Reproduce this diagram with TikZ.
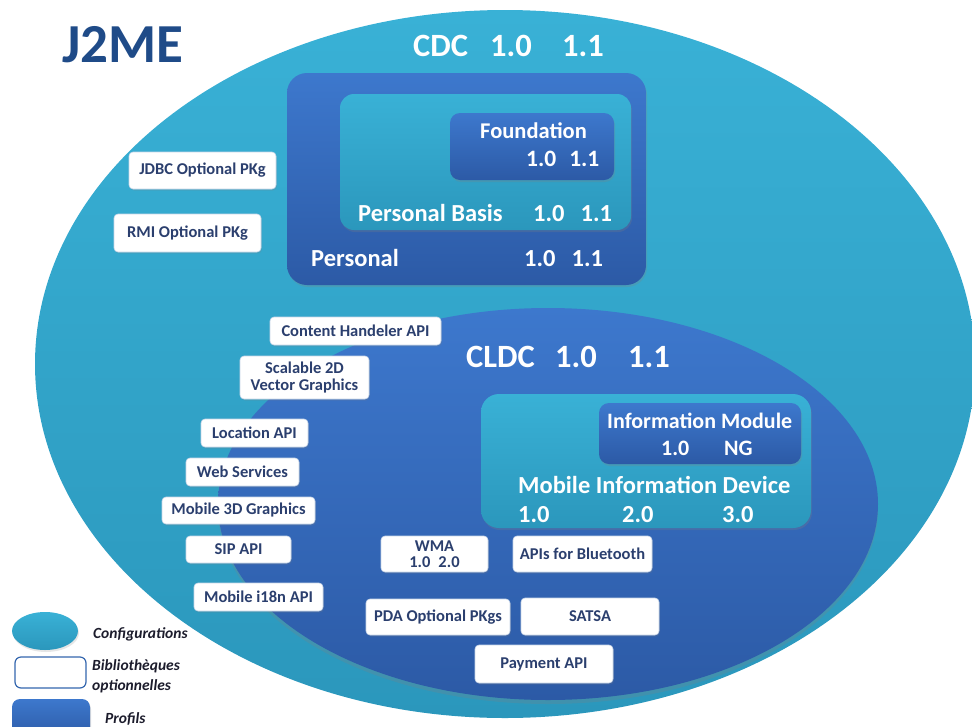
\documentclass[tikz,border=0pt]{standalone}
\usepackage{fontspec}
\setmainfont{Carlito}
\usepackage{xcolor}
\usepackage{tikz}
\usetikzlibrary{shapes.geometric,shadows}

\definecolor{cfgtop}{HTML}{39B1D6}
\definecolor{cfgbot}{HTML}{2B97BC}
\definecolor{proftop}{HTML}{3D78CD}
\definecolor{profbot}{HTML}{2C5AA6}
\definecolor{boxtext}{HTML}{2B3F6E}
\definecolor{j2me}{HTML}{1F4B88}
\definecolor{legtext}{HTML}{1C1C2C}
\definecolor{boxline}{HTML}{C9D6E8}

\tikzset{
  config/.style={ellipse, top color=cfgtop, bottom color=cfgbot, draw=none},
  profil/.style={rectangle, rounded corners=14pt, top color=proftop, bottom color=profbot, draw=none,
    drop shadow={opacity=0.25, shadow xshift=1pt, shadow yshift=-2pt}},
  cfgbox/.style={rectangle, rounded corners=14pt, top color=cfgtop, bottom color=cfgbot, draw=none,
    drop shadow={opacity=0.25, shadow xshift=1pt, shadow yshift=-2pt}},
  optpkg/.style={rectangle, rounded corners=4pt, fill=white, draw=boxline, line width=0.6pt,
    text=boxtext, font=\fontsize{16.5}{18}\selectfont\bfseries, align=center, inner sep=0pt,
    drop shadow={opacity=0.2, shadow xshift=1pt, shadow yshift=-1.5pt}},
  bigtitle/.style={anchor=base west, text=white, inner sep=0pt, font=\fontsize{32.5}{34}\selectfont\bfseries},
  proftitle/.style={anchor=base west, text=white, inner sep=0pt, font=\fontsize{24.5}{26}\selectfont\bfseries},
  legend/.style={anchor=base west, text=legtext, inner sep=0pt, font=\fontsize{15.5}{17}\selectfont\bfseries\itshape}
}

\begin{document}
\begin{tikzpicture}[x=1pt, y=-1pt]
  \useasboundingbox (0,0) rectangle (972,726);

  % configurations
  \node[config, minimum width=940pt, minimum height=708pt] (cdc) at (505,364) {};

  % CDC profiles
  \node[profil, minimum width=359pt, minimum height=212pt, rounded corners=20pt] (personal) at (466.5,179) {};
  \node[cfgbox, minimum width=291pt, minimum height=136pt] (basis) at (485.5,162) {};
  \node[profil, minimum width=164pt, minimum height=67pt, rounded corners=10pt] (foundation) at (532,146.5) {};

  \node[config, minimum width=660pt, minimum height=392pt, top color=proftop, bottom color=profbot,
    drop shadow={opacity=0.25, shadow xshift=0pt, shadow yshift=-4pt}] (cldc) at (548,504) {};

  % CLDC profiles
  \node[cfgbox, minimum width=330pt, minimum height=134pt, rounded corners=18pt] (midp) at (646,461) {};
  \node[profil, minimum width=202pt, minimum height=61pt, rounded corners=10pt] (imp) at (700,433.5) {};

  % titles
  \node[anchor=base west, inner sep=0pt, text=j2me, font=\fontsize{55}{57}\selectfont\bfseries] (title) at (62,62) {J2ME};
  \node[bigtitle] (cdct) at (413,56) {CDC};
  \node[bigtitle] (cdcv1) at (490,56) {1.0};
  \node[bigtitle] (cdcv2) at (562,56) {1.1};
  \node[bigtitle] (cldct) at (466,367) {CLDC};
  \node[bigtitle] (cldcv1) at (555,367) {1.0};
  \node[bigtitle] (cldcv2) at (628,367) {1.1};

  \node[proftitle, font=\fontsize{22.5}{24}\selectfont\bfseries] (foundt) at (480,138) {Foundation};
  \node[proftitle, font=\fontsize{23.5}{25}\selectfont\bfseries] (foundv) at (526,166) {1.0\hspace{13pt}1.1};
  \node[proftitle] (basist) at (358,221) {Personal Basis};
  \node[proftitle] (basisv) at (533,221) {1.0\hspace{16pt}1.1};
  \node[proftitle] (perst) at (311,266) {Personal};
  \node[proftitle] (persv) at (524,266) {1.0\hspace{16pt}1.1};

  \node[proftitle, font=\fontsize{22}{24}\selectfont\bfseries] (impt) at (607,428) {Information Module};
  \node[proftitle, font=\fontsize{22}{24}\selectfont\bfseries] (impv1) at (661,455) {1.0};
  \node[proftitle, font=\fontsize{22}{24}\selectfont\bfseries] (impv2) at (724,455) {NG};
  \node[proftitle] (midpt) at (518,493) {Mobile Information Device};
  \node[proftitle] (midpv1) at (518,522) {1.0};
  \node[proftitle] (midpv2) at (622,522) {2.0};
  \node[proftitle] (midpv3) at (722,522) {3.0};

  % optional packages
  \node[optpkg, minimum width=147pt, minimum height=37pt] (jdbc) at (202.5,170.5) {JDBC Optional PKg};
  \node[optpkg, minimum width=147pt, minimum height=38pt] (rmi) at (187.5,233) {RMI Optional PKg};
  \node[optpkg, minimum width=171pt, minimum height=28pt] (chapi) at (355.5,331) {Content Handeler API};
  \node[optpkg, minimum width=129pt, minimum height=43pt] (svg) at (304.5,377.5) {Scalable 2D\\[-1pt]Vector Graphics};
  \node[optpkg, minimum width=107pt, minimum height=28pt] (loc) at (254.5,433) {Location API};
  \node[optpkg, minimum width=113pt, minimum height=28pt] (ws) at (242.5,472) {Web Services};
  \node[optpkg, minimum width=153pt, minimum height=27pt] (m3g) at (238.5,510.5) {Mobile 3D Graphics};
  \node[optpkg, minimum width=105pt, minimum height=27pt] (sip) at (238.5,549.5) {SIP API};
  \node[optpkg, minimum width=129pt, minimum height=28pt] (i18n) at (258.5,597) {Mobile i18n API};
  \node[optpkg, minimum width=107pt, minimum height=36pt] (wma) at (434.5,554) {WMA\\[-2pt]1.0\hspace{8pt}2.0};
  \node[optpkg, minimum width=139pt, minimum height=36pt] (bt) at (582.5,554) {APIs for Bluetooth};
  \node[optpkg, minimum width=144pt, minimum height=36pt] (pda) at (438,617) {PDA Optional PKgs};
  \node[optpkg, minimum width=138pt, minimum height=37pt] (satsa) at (590,616.5) {SATSA};
  \node[optpkg, minimum width=138pt, minimum height=38pt] (pay) at (544,664) {Payment API};

  % legend
  \node[config, minimum width=66pt, minimum height=38pt,
    drop shadow={opacity=0.2, shadow xshift=1pt, shadow yshift=-2pt}] (legcfg) at (45,631) {};
  \node[rectangle, rounded corners=6pt, fill=white, draw=proftop!85!black, line width=1.2pt,
    minimum width=71pt, minimum height=31pt] (legopt) at (50.5,672.5) {};
  \node[profil, rounded corners=8pt, minimum width=78pt, minimum height=40pt] (legprof) at (51,719) {};
  \node[legend] (legcfgt) at (93,638) {Configurations};
  \node[legend] (legoptt) at (92,670) {Bibliothèques};
  \node[legend] (legoptt2) at (92,690) {optionnelles};
  \node[legend] (legproft) at (105,723) {Profils};
\end{tikzpicture}
\end{document}
